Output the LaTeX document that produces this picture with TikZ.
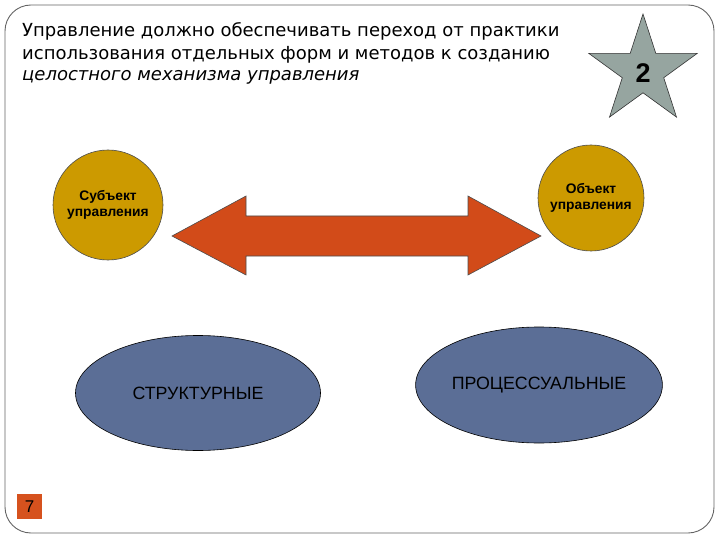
\documentclass[tikz,border=0pt]{standalone}
\usepackage{fontspec}
\setmainfont{Liberation Sans}
\newfontfamily\titlefont{DejaVu Sans}
\usetikzlibrary{shapes.geometric}
\definecolor{frameC}{RGB}{100,100,100}
\definecolor{goldC}{RGB}{204,154,0}
\definecolor{arrowC}{RGB}{210,75,25}
\definecolor{ellC}{RGB}{91,110,150}
\definecolor{starC}{RGB}{150,165,160}
\definecolor{pageC}{RGB}{214,82,30}
\tikzset{
  titleline/.style={anchor=base west, inner sep=0pt, font=\titlefont\fontsize{18}{22}\selectfont},
  goldcircle/.style={circle, draw=black!70, line width=0.6pt, fill=goldC, inner sep=0pt, align=center, font=\fontsize{13.8}{16}\selectfont\bfseries},
  blueell/.style={ellipse, draw=black, line width=0.6pt, fill=ellC, inner sep=0pt, font=\fontsize{17.8}{20}\selectfont},
}
\begin{document}
\begin{tikzpicture}[x=1pt,y=-1pt]
\useasboundingbox (0,0) rectangle (720,540);
% frame
\draw[frameC, line width=0.9pt, rounded corners=26pt] (5,5) rectangle (714,533);
% title
\node[titleline] (t1) at (22,37) {Управление должно обеспечивать переход от практики};
\node[titleline] (t2) at (22,59.5) {использования отдельных форм и методов к созданию};
\node[titleline] (t3) at (22,81) {\itshape целостного механизма управления};
% star
\draw[shift={(643,71)}, fill=starC, draw=black!80, line width=0.6pt]
  (-90:57) -- (-54:21.8) -- (-18:57) -- (18:21.8) -- (54:57) -- (90:21.8)
  -- (126:57) -- (162:21.8) -- (198:57) -- (234:21.8) -- cycle;
\node[font=\fontsize{27}{30}\selectfont\bfseries] (two) at (643,73) {2};
% circles
\node[goldcircle, minimum size=110pt] (subj) at (108,205) {Субъект\\управления};
\node[goldcircle, minimum size=106pt] (obj) at (591,198) {Объект\\управления};
% double arrow
\draw[fill=arrowC, draw=black!70, line width=0.6pt]
  (172,236) -- (246,196) -- (246,216) -- (468,216) -- (468,196) -- (541,236)
  -- (468,275) -- (468,256) -- (246,256) -- (246,275) -- cycle;
% ellipses
\node[blueell, minimum width=245pt, minimum height=115pt] (str) at (198,393) {СТРУКТУРНЫЕ};
\node[blueell, minimum width=246pt, minimum height=116pt] (proc) at (539,385) {ПРОЦЕССУАЛЬНЫЕ};
% page number
\node[fill=pageC, minimum size=25pt, inner sep=0pt, font=\fontsize{17}{18}\selectfont] (pg) at (29.5,506.5) {7};
\end{tikzpicture}
\end{document}
